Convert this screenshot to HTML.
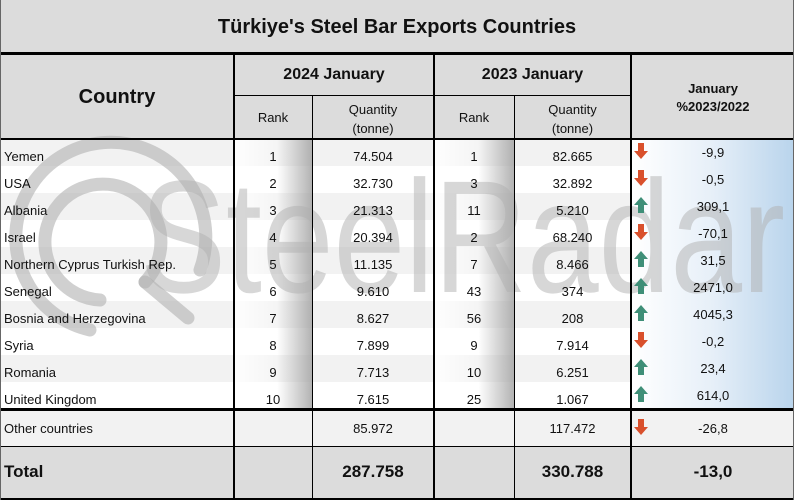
<!DOCTYPE html>
<html><head><meta charset="utf-8"><style>
*{margin:0;padding:0;box-sizing:border-box}
body{width:794px;height:500px;position:relative;overflow:hidden;background:#fff;font-family:"Liberation Sans",Calibri,sans-serif;color:#111}
.a{position:absolute}
.t{position:absolute;text-align:center;font-size:13px;white-space:nowrap}
.l{position:absolute;font-size:13px;white-space:nowrap;left:4px}
</style></head><body>
<div class="a" style="left:0;top:0;width:794px;height:53px;background:#dcdcdc"></div>
<div class="a" style="left:0;top:53px;width:794px;height:86px;background:#dcdcdc"></div>
<div id="rows"></div>
<div class="a" style="left:0;top:409px;width:794px;height:38px;background:#f2f2f2"></div>
<div class="a" style="left:0;top:447px;width:794px;height:53px;background:#dcdcdc"></div>
<div class="a" style="left:235px;top:139px;width:77px;height:270px;background:linear-gradient(90deg,rgba(255,255,255,0.9),rgba(255,255,255,0.2) 55%,rgba(160,160,160,0.8))"></div>
<div class="a" style="left:435px;top:139px;width:79px;height:270px;background:linear-gradient(90deg,rgba(255,255,255,0.9),rgba(255,255,255,0.2) 55%,rgba(160,160,160,0.8))"></div>
<div class="a" style="left:632px;top:139px;width:162px;height:270px;background:linear-gradient(90deg,#fff,#e6eff8 50%,#b9d4ec)"></div>
<svg class="a" style="left:0;top:0" width="794" height="500">
<g fill="none" stroke="#b0b0b0" stroke-opacity="0.6" stroke-width="13" stroke-linecap="round">
<path d="M90 330 A95 95 0 1 1 200 270"/>
<path d="M100 300 A58 58 0 1 1 145 282"/>
<path d="M145 282 L188 318"/>
</g>
<text x="140" y="292" font-family="Liberation Sans,sans-serif" font-size="160" fill="#b0b0b0" fill-opacity="0.5" textLength="645" lengthAdjust="spacingAndGlyphs">SteelRadar</text>
</svg>
<div class="a" style="left:0;top:52px;width:794px;height:3px;background:#000"></div>
<div class="a" style="left:0;top:138px;width:794px;height:2px;background:#000"></div>
<div class="a" style="left:0;top:408px;width:794px;height:3px;background:#000"></div>
<div class="a" style="left:0;top:446px;width:794px;height:1px;background:#000"></div>
<div class="a" style="left:0;top:498px;width:794px;height:2px;background:#000"></div>
<div class="a" style="left:234px;top:95px;width:398px;height:1px;background:#000"></div>
<div class="a" style="left:233px;top:53px;width:2px;height:447px;background:#000"></div>
<div class="a" style="left:433px;top:53px;width:2px;height:447px;background:#000"></div>
<div class="a" style="left:630px;top:53px;width:2px;height:447px;background:#000"></div>
<div class="a" style="left:312px;top:95px;width:1px;height:405px;background:#000"></div>
<div class="a" style="left:514px;top:95px;width:1px;height:405px;background:#000"></div>
<div class="a" style="left:0;top:0;width:1px;height:500px;background:#666"></div>
<div class="a" style="left:793px;top:0;width:1px;height:500px;background:#666"></div>
<div class="t" style="left:0;width:794px;top:16px;font-size:20px;font-weight:bold">Türkiye's Steel Bar Exports Countries</div>
<div class="t" style="left:0;width:234px;top:86px;font-size:20px;font-weight:bold">Country</div>
<div class="t" style="left:234px;width:200px;top:66px;font-size:16px;font-weight:bold">2024 January</div>
<div class="t" style="left:434px;width:197px;top:66px;font-size:16px;font-weight:bold">2023 January</div>
<div class="t" style="left:632px;width:162px;top:80px;font-size:13px;font-weight:bold;line-height:18px">January<br>%2023/2022</div>
<div class="t" style="left:234px;width:78px;top:110px">Rank</div>
<div class="t" style="left:312px;width:122px;top:100px;line-height:19px">Quantity<br>(tonne)</div>
<div class="t" style="left:434px;width:80px;top:110px">Rank</div>
<div class="t" style="left:514px;width:117px;top:100px;line-height:19px">Quantity<br>(tonne)</div>
<div id="data"></div>
<div class="l" style="top:421px">Other countries</div>
<div class="t" style="left:312px;width:122px;top:421px">85.972</div>
<div class="t" style="left:514px;width:117px;top:421px">117.472</div>
<div class="t" style="left:632px;width:162px;top:421px">-26,8</div>
<div class="l" style="top:462px;font-size:17px;font-weight:bold">Total</div>
<div class="t" style="left:312px;width:122px;top:462px;font-size:17px;font-weight:bold">287.758</div>
<div class="t" style="left:514px;width:117px;top:462px;font-size:17px;font-weight:bold">330.788</div>
<div class="t" style="left:632px;width:162px;top:462px;font-size:17px;font-weight:bold">-13,0</div>
<script>
var d=[["Yemen",1,"74.504",1,"82.665","-9,9",0],["USA",2,"32.730",3,"32.892","-0,5",0],["Albania",3,"21.313",11,"5.210","309,1",1],["Israel",4,"20.394",2,"68.240","-70,1",0],["Northern Cyprus Turkish Rep.",5,"11.135",7,"8.466","31,5",1],["Senegal",6,"9.610",43,"374","2471,0",1],["Bosnia and Herzegovina",7,"8.627",56,"208","4045,3",1],["Syria",8,"7.899",9,"7.914","-0,2",0],["Romania",9,"7.713",10,"6.251","23,4",1],["United Kingdom",10,"7.615",25,"1.067","614,0",1]];
var r="",h="";
function ar(y,up){return up?'<svg class="a" style="left:634px;top:'+(y+4)+'px" width="14" height="16"><path d="M7 0 L14 8 L10 8 L10 16 L4 16 L4 8 L0 8Z" fill="#3f8f78"/></svg>':'<svg class="a" style="left:634px;top:'+(y+4)+'px" width="14" height="16"><path d="M7 16 L14 8 L10 8 L10 0 L4 0 L4 8 L0 8Z" fill="#d9502c"/></svg>';}
d.forEach(function(e,i){var y=139+i*27;
r+='<div class="a" style="left:0;top:'+y+'px;width:794px;height:27px;background:'+(i%2?'#fff':'#f2f2f2')+'"></div>';
h+='<div class="l" style="top:'+(y+10)+'px">'+e[0]+'</div>'+
'<div class="t" style="left:234px;width:78px;top:'+(y+10)+'px">'+e[1]+'</div>'+
'<div class="t" style="left:312px;width:122px;top:'+(y+10)+'px">'+e[2]+'</div>'+
'<div class="t" style="left:434px;width:80px;top:'+(y+10)+'px">'+e[3]+'</div>'+
'<div class="t" style="left:514px;width:117px;top:'+(y+10)+'px">'+e[4]+'</div>'+
'<div class="t" style="left:632px;width:162px;top:'+(y+6)+'px">'+e[5]+'</div>'+ar(y,e[6]);});
document.getElementById("rows").outerHTML=r;
document.getElementById("data").outerHTML=h+ar(409+6,0);
</script>
</body></html>
